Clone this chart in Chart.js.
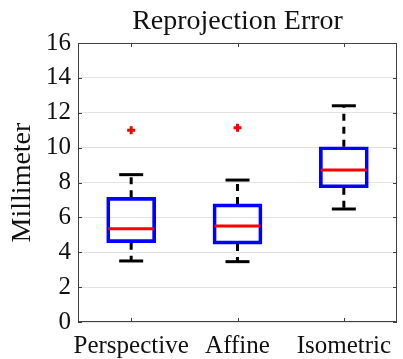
<!DOCTYPE html>
<html>
<head>
<meta charset="utf-8">
<script src="https://cdn.jsdelivr.net/npm/chart.js@4"></script>
<style>
  body { margin: 0; background: #fff; }
  #wrap { width: 403px; height: 359px; }
</style>
</head>
<body>
<div id="wrap"><canvas id="chart" width="403" height="359"></canvas></div>
<script>
// data
const categories = ["Perspective", "Affine", "Isometric"];
const lowerWhisker = [3.5, 3.46, 6.48];
const q1 = [4.55, 4.47, 7.7];
const median = [5.35, 5.5, 8.72];
const q3 = [7.15, 6.77, 10.05];
const upperWhisker = [8.45, 8.14, 12.4];
const outliers = [{ x: "Perspective", y: 11.0 }, { x: "Affine", y: 11.14 }];
const yTicks = [0, 2, 4, 6, 8, 10, 12, 14, 16];
const chartTitle = "Reprojection Error";

const serif = "'Liberation Serif', 'Times New Roman', serif";
const axisColor = "#404040";
const textColor = "#111";

// vertical whisker segments, null breaks the line between categories
function whiskerData(from, to) {
    const pts = [];
    categories.forEach((c, i) => {
        pts.push({ x: c, y: from[i] }, { x: c, y: to[i] }, { x: c, y: null });
    });
    return pts;
}

// MATLAB style box frame with inward ticks, title centred over the axes
const framePlugin = {
    id: "frame",
    afterDraw(chart) {
        const { ctx, chartArea: a, scales } = chart;
        ctx.save();
        ctx.strokeStyle = axisColor;
        ctx.lineWidth = 1;
        ctx.strokeRect(a.left + 0.5, a.top + 0.5, a.right - a.left - 1, a.bottom - a.top - 1);
        ctx.beginPath();
        categories.forEach((c, i) => {
            const x = Math.round(scales.x.getPixelForValue(i)) + 0.5;
            ctx.moveTo(x, a.bottom); ctx.lineTo(x, a.bottom - 4);
            ctx.moveTo(x, a.top); ctx.lineTo(x, a.top + 4);
        });
        yTicks.forEach(v => {
            const y = Math.round(scales.y.getPixelForValue(v)) + 0.5;
            ctx.moveTo(a.left, y); ctx.lineTo(a.left + 4, y);
            ctx.moveTo(a.right, y); ctx.lineTo(a.right - 4, y);
        });
        ctx.stroke();

        ctx.fillStyle = textColor;
        ctx.font = "28px " + serif;
        ctx.textAlign = "center";
        ctx.textBaseline = "alphabetic";
        ctx.fillText(chartTitle, (a.left + a.right) / 2, 29);
        ctx.restore();
    }
};

const ctx = document.getElementById("chart").getContext("2d");
new Chart(ctx, {
    type: "bar",
    data: {
        labels: categories,
        datasets: [
            {
                type: "line", order: 5,
                data: whiskerData(q3, upperWhisker),
                borderColor: "#000", borderWidth: 3, borderDash: [7, 6],
                pointRadius: 0, spanGaps: false
            },
            {
                type: "line", order: 5,
                data: whiskerData(q1, lowerWhisker),
                borderColor: "#000", borderWidth: 3, borderDash: [7, 6],
                pointRadius: 0, spanGaps: false
            },
            {
                type: "line", order: 4, showLine: false,
                data: categories.map((c, i) => ({ x: c, y: upperWhisker[i] }))
                    .concat(categories.map((c, i) => ({ x: c, y: lowerWhisker[i] }))),
                pointStyle: "line", pointRadius: 12, borderColor: "#000", borderWidth: 3
            },
            {
                type: "bar", order: 3,
                data: q1.map((v, i) => [v, q3[i]]),
                backgroundColor: "rgba(255,255,255,0)",
                borderColor: "#0000ff", borderWidth: 3, borderSkipped: false,
                barThickness: 49
            },
            {
                type: "line", order: 2, showLine: false,
                data: categories.map((c, i) => ({ x: c, y: median[i] })),
                pointStyle: "line", pointRadius: 23, borderColor: "#ff0000", borderWidth: 3
            },
            {
                type: "line", order: 1, showLine: false,
                data: outliers,
                pointStyle: "cross", pointRadius: 4, borderColor: "#ff0000", borderWidth: 3
            }
        ]
    },
    options: {
        responsive: false,
        animation: false,
        layout: { autoPadding: false, padding: { left: 0, right: 6, top: 43, bottom: 0 } },
        plugins: {
            legend: { display: false },
            tooltip: { enabled: false },
            title: { display: false }
        },
        scales: {
            x: {
                offset: true,
                grid: { display: false, drawTicks: false },
                border: { display: false },
                ticks: {
                    color: textColor, font: { family: serif, size: 25 }, padding: 9,
                    maxRotation: 0, autoSkip: false
                },
                afterFit(scale) {
                    scale.height = 37;
                    scale.paddingLeft = 0;
                    scale.paddingRight = 0;
                }
            },
            y: {
                min: 0, max: 16,
                grid: { color: "#e3e3e3", drawTicks: false },
                border: { display: false },
                ticks: { stepSize: 2, color: textColor, font: { family: serif, size: 25 }, padding: 7 },
                title: {
                    display: true, text: "Millimeter", color: textColor,
                    font: { family: serif, size: 28 }, padding: { top: 6, bottom: 0 }
                },
                afterFit(scale) {
                    scale.width = 78;
                    scale.paddingTop = 0;
                    scale.paddingBottom = 0;
                }
            }
        }
    },
    plugins: [framePlugin]
});
</script>
</body>
</html>
